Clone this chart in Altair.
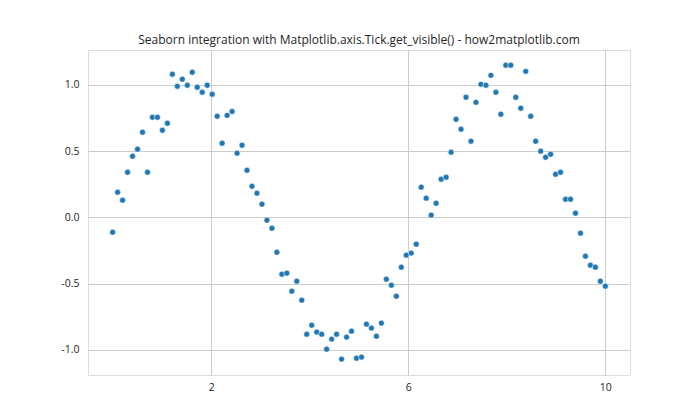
import altair as alt
import pandas as pd

n_points = 100
x_values = [i * 10 / 99 for i in range(n_points)]
y_values = [
    -0.112, 0.190, 0.130, 0.341, 0.462, 0.515, 0.643, 0.341, 0.756, 0.756,
    0.658, 0.711, 1.081, 0.990, 1.043, 0.998, 1.096, 0.983, 0.945, 0.998,
    0.930, 0.764, 0.560, 0.771, 0.800, 0.485, 0.545, 0.356, 0.235, 0.183,
    0.100, -0.021, -0.082, -0.263, -0.429, -0.421, -0.557, -0.482, -0.625, -0.882,
    -0.814, -0.866, -0.882, -0.995, -0.919, -0.882, -1.070, -0.904, -0.859, -1.063,
    -1.055, -0.806, -0.836, -0.897, -0.798, -0.467, -0.512, -0.595, -0.376, -0.285,
    -0.270, -0.202, 0.228, 0.145, 0.017, 0.107, 0.288, 0.303, 0.492, 0.741,
    0.666, 0.907, 0.575, 0.869, 1.005, 0.998, 1.073, 0.945, 0.779, 1.149,
    1.149, 0.907, 0.824, 1.103, 0.764, 0.575, 0.500, 0.454, 0.477, 0.326,
    0.341, 0.137, 0.137, 0.032, -0.119, -0.293, -0.361, -0.376, -0.482, -0.519,
]
x_ticks = [2, 6, 10]
y_ticks = [-1.0, -0.5, 0.0, 0.5, 1.0]
title_text = "Seaborn integration with Matplotlib.axis.Tick.get_visible() - how2matplotlib.com"

df = pd.DataFrame({"x": x_values, "y": y_values})

FONT = "Open Sans"

chart = (
    alt.Chart(df)
    .mark_circle(size=34, opacity=1, color="#1f77b4", stroke="white", strokeWidth=0.5)
    .encode(
        x=alt.X(
            "x:Q",
            scale=alt.Scale(domain=[-0.5, 10.5], nice=False, zero=False),
            axis=alt.Axis(
                values=x_ticks, title=None, grid=True, gridColor="#cccccc",
                gridWidth=1, ticks=False, domain=False, labelPadding=7,
                labelFontSize=10.5, labelColor="#262626", labelFont=FONT,
                format="d",
            ),
        ),
        y=alt.Y(
            "y:Q",
            scale=alt.Scale(domain=[-1.19, 1.264], nice=False, zero=False),
            axis=alt.Axis(
                values=y_ticks, title=None, grid=True, gridColor="#cccccc",
                gridWidth=1, ticks=False, domain=False, labelPadding=9,
                labelFontSize=10.5, labelColor="#262626", labelFont=FONT,
                labelExpr="datum.value < 0 ? '-' + format(abs(datum.value), '.1f') : format(datum.value, '.1f')",
            ),
        ),
    )
    .properties(
        width=542,
        height=325,
        title=alt.TitleParams(
            text=title_text, fontSize=12, font=FONT, fontWeight="normal",
            color="#262626", anchor="middle", offset=3,
        ),
        autosize=alt.AutoSizeParams(type="none"),
        padding={"left": 88, "top": 50, "right": 70, "bottom": 45},
    )
    .configure_view(stroke="#cccccc", strokeWidth=1)
    .configure(background="white")
)

chart.save("out.html", embed_options={"renderer": "svg", "actions": False})
